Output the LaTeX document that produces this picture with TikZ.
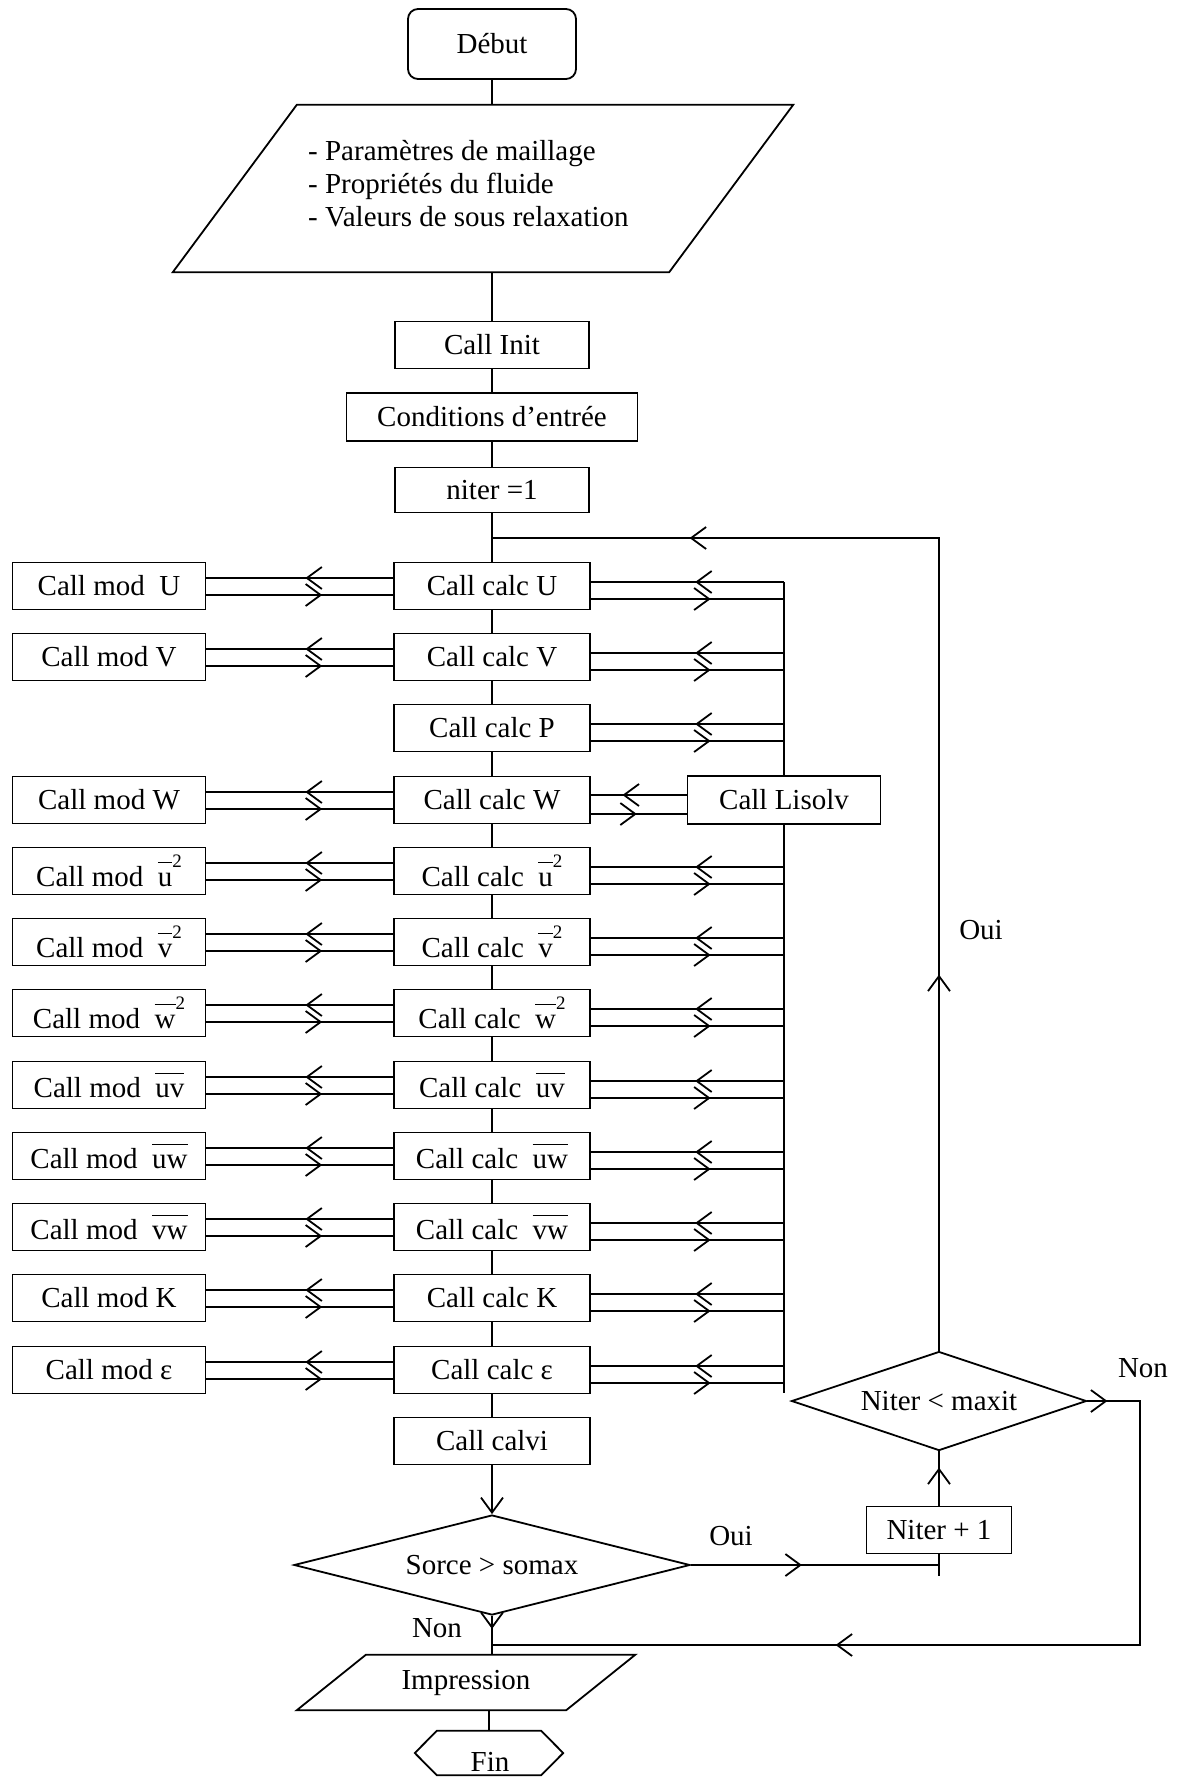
\documentclass[tikz,border=0pt]{standalone}
\usepackage{fontspec}
\setmainfont{Liberation Serif}
\usetikzlibrary{shapes.geometric,arrows.meta,decorations.markings}
\newcommand\ovl[1]{\ensuremath{\overline{\hbox{\rule{0pt}{23pt}#1}}}}
\newcommand\sqr{\raisebox{19pt}{\fontsize{19}{19}\selectfont 2}}
\begin{document}
\begin{tikzpicture}[x=1pt,y=-1pt,
  every node/.style={font=\fontsize{29}{33}\selectfont, inner sep=0pt},
  box/.style={draw, line width=1.8pt, minimum width=196pt, minimum height=47pt},
  modbox/.style={box, minimum width=193pt},
  conn/.style={line width=1.8pt},
  >={Straight Barb[length=15pt,width=22pt]},
  midarrow/.style={postaction={decorate,decoration={markings,mark=at position #1 with {\arrow{>}}}}},
]
\useasboundingbox (0,0) rectangle (1180,1777);

% top part
\node[draw, line width=1.8pt, rounded corners=10pt, minimum width=168pt, minimum height=70pt] (debut) at (492,44) {Début};
\node[minimum width=620pt, minimum height=167pt] (param) at (483,188.5) {};
\draw[conn] ([xshift=124pt]param.north west) -- (param.north east) -- ([xshift=-124pt]param.south east) -- (param.south west) -- cycle;
\node[anchor=west, align=left] (paramtxt) at (308,184) {- Paramètres de maillage\\- Propriétés du fluide\\- Valeurs de sous relaxation};
\node[box, minimum width=194pt] (init) at (492,345) {Call Init};
\node[box, minimum width=291pt, minimum height=48pt] (cond) at (492,417) {Conditions d’entrée};
\node[box, minimum width=194pt, minimum height=45pt] (niter) at (492,490) {niter =1};

% calc column
\node[box] (cU) at (492,586) {Call calc U};
\node[box] (cV) at (492,657) {Call calc V};
\node[box] (cP) at (492,728) {Call calc P};
\node[box] (cW) at (492,800) {Call calc W};
\node[box] (cuu) at (492,871) {Call calc\ \ \ovl{u}\sqr};
\node[box] (cvv) at (492,942) {Call calc\ \ \ovl{v}\sqr};
\node[box] (cww) at (492,1013) {Call calc\ \ \ovl{w}\sqr};
\node[box] (cuv) at (492,1085) {Call calc\ \ \ovl{uv}};
\node[box] (cuw) at (492,1156) {Call calc\ \ \ovl{uw}};
\node[box] (cvw) at (492,1227) {Call calc\ \ \ovl{vw}};
\node[box] (cK) at (492,1298) {Call calc K};
\node[box] (ce) at (492,1370) {Call calc ε};
\node[box] (calvi) at (492,1441) {Call calvi};

% mod column
\node[modbox] (mU) at (109,586) {Call mod\ \ U};
\node[modbox] (mV) at (109,657) {Call mod V};
\node[modbox] (mW) at (109,800) {Call mod W};
\node[modbox] (muu) at (109,871) {Call mod\ \ \ovl{u}\sqr};
\node[modbox] (mvv) at (109,942) {Call mod\ \ \ovl{v}\sqr};
\node[modbox] (mww) at (109,1013) {Call mod\ \ \ovl{w}\sqr};
\node[modbox] (muv) at (109,1085) {Call mod\ \ \ovl{uv}};
\node[modbox] (muw) at (109,1156) {Call mod\ \ \ovl{uw}};
\node[modbox] (mvw) at (109,1227) {Call mod\ \ \ovl{vw}};
\node[modbox] (mK) at (109,1298) {Call mod K};
\node[modbox] (me) at (109,1370) {Call mod ε};

% Lisolv and bus
\node[box, minimum width=193pt, minimum height=48pt] (lis) at (784,800) {Call Lisolv};
\coordinate (bus) at (784,0);

% bottom part
\node[diamond, draw, line width=1.8pt, aspect=4, minimum width=396pt, minimum height=100pt] (sorce) at (492,1565) {Sorce > somax};
\node[diamond, draw, line width=1.8pt, aspect=3, minimum width=295pt, minimum height=99pt] (nm) at (939,1401) {Niter < maxit};
\node[box, minimum width=145pt] (n1) at (939,1530) {Niter + 1};
\node[minimum width=338pt, minimum height=55pt] (imp) at (466,1682.5) {Impression};
\draw[conn] ([xshift=69pt]imp.north west) -- (imp.north east) -- ([xshift=-69pt]imp.south east) -- (imp.south west) -- cycle;
\node[minimum width=148pt, minimum height=44pt] (fin) at (489,1753) {};
\draw[conn] (fin.west) -- ([xshift=22pt]fin.north west) -- ([xshift=-22pt]fin.north east) -- (fin.east) -- ([xshift=-22pt]fin.south east) -- ([xshift=22pt]fin.south west) -- cycle;
\node (fintxt) at (490,1762) {Fin};

% labels
\node (oui1) at (981,930) {Oui};
\node (non1) at (1143,1368) {Non};
\node (oui2) at (731,1536) {Oui};
\node (non2) at (437,1628) {Non};

% main vertical line
\draw[conn] (debut.south) -- (debut.south |- param.north);
\draw[conn] (init.north |- param.south) -- (init.north);
\draw[conn] (init) -- (cond) -- (niter) -- (cU) -- (cV) -- (cP) -- (cW) -- (cuu) -- (cvv) -- (cww) -- (cuv) -- (cuw) -- (cvw) -- (cK) -- (ce) -- (calvi);
\draw[conn, ->] (calvi) -- (sorce);
\draw[conn, midarrow=13pt] (sorce.south) -- (sorce.south |- imp.north);
\draw[conn] (fin.north |- imp.south) -- (fin.north);

% left double connectors
\foreach \m/\c in {mU/cU, mV/cV, mW/cW, muu/cuu, mvv/cvv, mww/cww, muv/cuv, muw/cuw, mvw/cvw, mK/cK, me/ce} {
  \draw[conn, midarrow=0.47] ([yshift=8pt]\c.west) -- ([yshift=8pt]\c.west -| \m.east);
  \draw[conn, midarrow=0.62] ([yshift=-9pt]\m.east) -- ([yshift=-9pt]\m.east -| \c.west);
}

% right double connectors to the bus
\foreach \c in {cU, cV, cP, cuu, cvv, cww, cuv, cuw, cvw, cK, ce} {
  \draw[conn, midarrow=0.46] ([yshift=4pt]\c.east -| bus) -- ([yshift=4pt]\c.east);
  \draw[conn, midarrow=0.62] ([yshift=-13pt]\c.east) -- ([yshift=-13pt]\c.east -| bus);
}
\draw[conn] ([yshift=4pt]cU.east -| bus) -- (lis.north);
\draw[conn] (lis.south) -- ([yshift=-23pt]ce.east -| bus);
\draw[conn, midarrow=0.67] ([yshift=5pt]lis.west) -- ([yshift=5pt]lis.west -| cW.east);
\draw[conn, midarrow=0.48] ([yshift=-14pt]cW.east) -- ([yshift=-14pt]cW.east -| lis.west);

% loops
\coordinate (loopj) at (492,538);
\draw[conn, midarrow=376pt, midarrow=1062pt] (nm.north) -- (nm.north |- loopj) -- (loopj);
\coordinate (nonc) at (1140,1401);
\coordinate (nonb) at (1140,1645);
\coordinate (nonj) at (492,1645);
\draw[conn, midarrow=20pt, midarrow=601pt] (nm.east) -- (nonc) -- (nonb) -- (nonj);
\draw[conn, midarrow=111pt] (sorce.east) -- (sorce.east -| n1.south) -- (n1.south);
\draw[conn] (n1.south) -- ++(0,22);
\draw[conn, midarrow=38pt] (n1.north) -- (nm.south);
\end{tikzpicture}
\end{document}
